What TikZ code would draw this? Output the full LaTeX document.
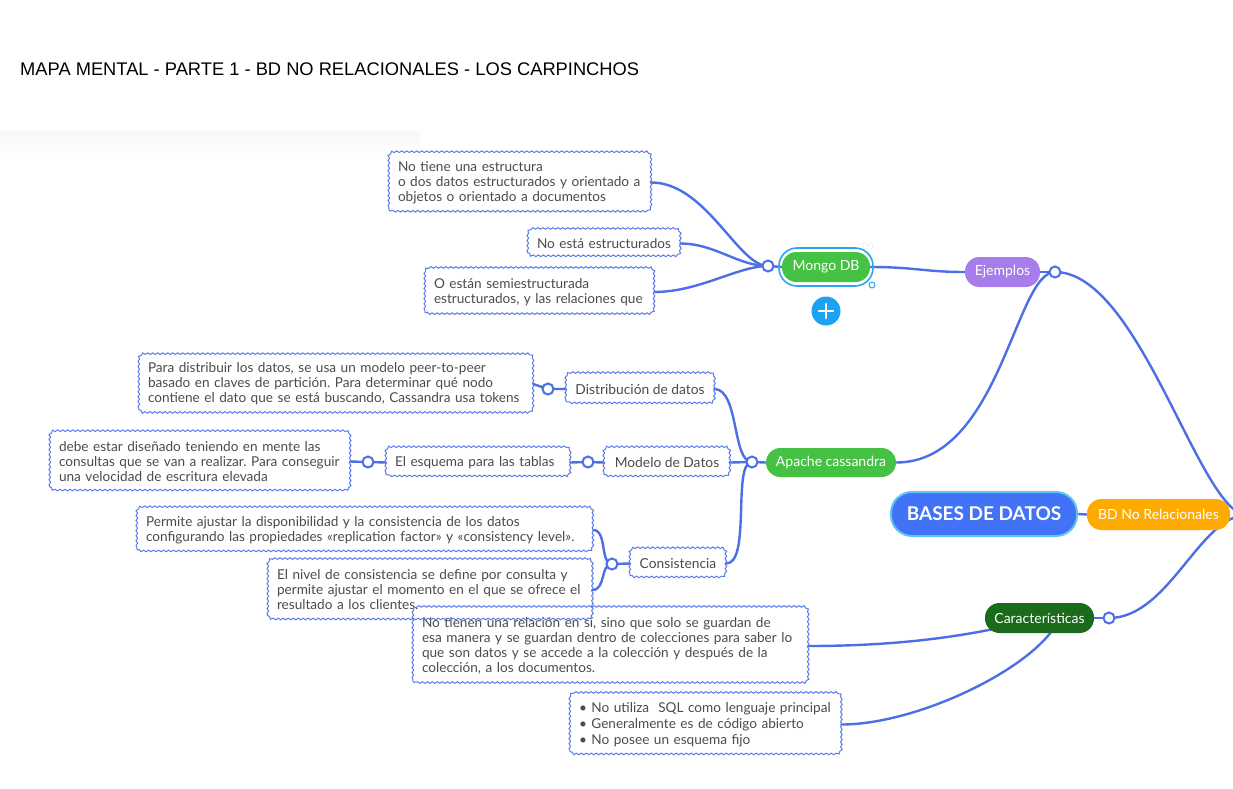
\documentclass[tikz,border=0pt]{standalone}
\usepackage{fontspec}
\setmainfont{Lato}
\newfontfamily\titlefont{Liberation Sans}
\usetikzlibrary{decorations.pathmorphing,backgrounds}
\definecolor{lineblue}{HTML}{4C6FE6}
\definecolor{boxblue}{HTML}{5A7CEB}
\definecolor{textgray}{HTML}{4B4B4B}
\definecolor{mgreen}{HTML}{45C144}
\definecolor{mpurple}{HTML}{A67DEA}
\definecolor{morange}{HTML}{FFAA00}
\definecolor{dgreen}{HTML}{1A6B1C}
\definecolor{bblue}{HTML}{4272F5}
\definecolor{bcyan}{HTML}{5CC6F7}
\definecolor{plusblue}{HTML}{1DA1F2}
\definecolor{selblue}{HTML}{2AA5F0}
\frenchspacing
\tikzset{
  wavy/.style={draw=boxblue, line width=1pt,
    decorate, decoration={snake, segment length=5pt, amplitude=0.8pt}},
  tbox/.style={inner xsep=9pt, inner ysep=3pt, align=left, text=textgray,
    font=\fontsize{13.6}{15}\selectfont},
  cbox/.style={inner sep=0pt, text=textgray, font=\fontsize{13.8}{15}\selectfont},
  pill/.style={rounded corners=14.5pt, minimum height=30pt, inner sep=0pt,
    text=white, font=\fontsize{14}{15}\selectfont},
  knob/.style={circle, draw=lineblue, line width=2pt, fill=white,
    minimum size=11pt, inner sep=0pt},
  conn/.style={draw=lineblue, line width=2.4pt, line cap=round}
}
\begin{document}
\begin{tikzpicture}[x=1pt,y=-1pt]
\useasboundingbox (0,0) rectangle (1233,788);

% title
\node[anchor=west, inner sep=0pt, font=\titlefont\fontsize{18.3}{20}\selectfont] (title) at (20,69) {MAPA MENTAL - PARTE 1 - BD NO RELACIONALES - LOS CARPINCHOS};

% Mongo branch
\node[tbox, text width=244pt, minimum height=59pt] (bA) at (520,182.5)
 {\mbox{No tiene una estructura}\\\mbox{o dos datos estructurados y orientado a}\\\mbox{objetos o orientado a documentos}};
\node[tbox, text width=134pt, minimum height=27pt] (bB) at (604,243.5)
 {\mbox{No está estructurados}};
\node[tbox, text width=211pt, minimum height=46pt] (bC) at (539.5,292)
 {\mbox{O están semiestructurada}\\\mbox{estructurados, y las relaciones que}};
\node[knob] (kM) at (768,266) {};
\draw[selblue, line width=1.6pt, rounded corners=18pt] (779,248) rectangle (873,286);
\node[pill, fill=mgreen, minimum width=88pt] (mongo) at (826,267) {Mongo DB};
\node[circle, draw=selblue, fill=white, line width=1pt, minimum size=6pt, inner sep=0pt] (handle) at (872,285) {};
\node[draw=black!15, fill=white, rounded corners=2pt, minimum width=10pt, minimum height=6pt, inner sep=0pt, font=\fontsize{5}{5}\selectfont, text=black!40] (dots) at (868,246) {...};
\node[circle, fill=plusblue, minimum size=29pt, inner sep=0pt] (plus) at (826,311) {};
\draw[white, line width=2.6pt, line cap=round] ([xshift=-7pt]plus.center) -- ([xshift=7pt]plus.center);
\draw[white, line width=2.6pt, line cap=round] ([yshift=-7pt]plus.center) -- ([yshift=7pt]plus.center);

\node[pill, fill=mpurple, minimum width=75pt] (ejem) at (1002.5,272) {Ejemplos};
\node[knob] (kE) at (1055,272) {};

% Cassandra branch
\node[tbox, text width=376pt, minimum height=58pt] (bD) at (336,384)
 {\mbox{Para distribuir los datos, se usa un modelo peer-to-peer}\\\mbox{basado en claves de partición. Para determinar qué nodo}\\\mbox{contiene el dato que se está buscando, Cassandra usa tokens}};
\node[knob] (kD) at (548,389) {};
\node[cbox, minimum width=148pt, minimum height=30pt] (dist) at (640,389) {Distribución de datos};

\node[tbox, text width=282pt, minimum height=59pt] (bE) at (200,461.5)
 {\mbox{debe estar diseñado teniendo en mente las}\\\mbox{consultas que se van a realizar. Para conseguir}\\\mbox{una velocidad de escritura elevada}};
\node[knob] (kS) at (368,462) {};
\node[tbox, text width=166pt, minimum height=29pt] (esq) at (478,462.5) {\mbox{El esquema para las tablas}};
\node[knob] (kMo) at (588,462) {};
\node[cbox, minimum width=126pt, minimum height=29pt] (modelo) at (667,462.5) {Modelo de Datos};

\node[tbox, text width=438pt, minimum height=44pt] (bF) at (365,530)
 {\mbox{Permite ajustar la disponibilidad y la consistencia de los datos}\\\mbox{configurando las propiedades «replication factor» y «consistency level».}};
\node[tbox, text width=306pt, minimum height=60pt] (bG) at (430,590)
 {\mbox{El nivel de consistencia se define por consulta y}\\\mbox{permite ajustar el momento en el que se ofrece el}\\\mbox{resultado a los clientes.}};
\node[knob] (kC) at (612,564) {};
\node[cbox, minimum width=96pt, minimum height=29pt] (consis) at (678,563.5) {Consistencia};

\node[knob] (kA) at (752,462) {};
\node[pill, fill=mgreen, minimum width=130pt, minimum height=29pt] (apache) at (831,462.5) {Apache cassandra};

% center
\node[pill, fill=bblue, draw=bcyan, line width=2pt, minimum width=186pt, minimum height=44pt, rounded corners=21pt, font=\bfseries\fontsize{19}{20}\selectfont] (bases) at (984,514) {BASES DE DATOS};
\node[pill, fill=morange, minimum width=143pt, minimum height=31pt] (bdnr) at (1158.5,514.5) {BD No Relacionales};
\coordinate (root) at (1247,515);

% Caracteristicas
\node[pill, fill=dgreen, minimum width=109pt] (caract) at (1039.5,618) {Características};
\node[knob] (kK) at (1109,618) {};
\node[tbox, text width=377pt, minimum height=76pt] (bH) at (610.5,646)
 {\mbox{No tienen una relación en sí, sino que solo se guardan de}\\\mbox{esa manera y se guardan dentro de colecciones para saber lo}\\\mbox{que son datos y se accede a la colección y después de la}\\\mbox{colección, a los documentos.}};
\node[tbox, text width=253pt, minimum height=61pt, font=\fontsize{13.6}{16}\selectfont] (bI) at (705.5,724.5)
 {\mbox{• No utiliza\ \ SQL como lenguaje principal}\\\mbox{• Generalmente es de código abierto}\\\mbox{• No posee un esquema fijo}};

% wavy borders of the text boxes
\foreach \n in {bA,bB,bC,bD,dist,bE,esq,modelo,bF,bG,consis,bH,bI}
  \draw[wavy] (\n.south west) [rounded corners=5pt] rectangle (\n.north east) [sharp corners];

% background and connectors
\begin{scope}[on background layer]
\fill[white] (0,0) rectangle (1233,788);
\shade[top color=black!3, bottom color=white] (0,131) rectangle (420,158);
\draw[conn] (kM.center) .. controls +(-30,0) and +(55,0) .. (bA.east);
\draw[conn] (kM.center) .. controls +(-30,0) and +(35,0) .. (bB.east);
\draw[conn] (kM.center) .. controls +(-30,0) and +(45,0) .. (bC.east);
\draw[conn] (kM.center) -- (mongo.west);
\draw[conn] (mongo.east) .. controls +(45,0) and +(-40,0) .. (ejem.west);
\draw[conn] (ejem.east) -- (kE.center);
\draw[conn] (kE.center) .. controls +(-40,0) and +(104,0) .. (apache.east);
\draw[conn] (kE.center) .. controls +(85,0) and +(-47,0) .. (root);

\draw[conn] (kA.center) -- (apache.west);
\draw[conn] (kA.center) .. controls +(-20,0) and +(25,0) .. (dist.east);
\draw[conn] (kA.center) -- (modelo.east);
\draw[conn] (kA.center) .. controls +(-20,0) and +(25,0) .. (consis.east);
\draw[conn] (dist.west) -- (kD.center) -- (bD.east);
\draw[conn] (modelo.west) -- (kMo.center) -- (esq.east);
\draw[conn] (esq.west) -- (kS.center) -- (bE.east);
\draw[conn] (consis.west) -- (kC.center);
\draw[conn] (kC.center) .. controls +(-12,0) and +(14,0) .. (bF.east);
\draw[conn] (kC.center) .. controls +(-12,0) and +(14,0) .. (bG.east);

\draw[conn] (bases.east) -- (bdnr.west);
\draw[conn] (caract.east) -- (kK.center);
\draw[conn] (kK.center) .. controls +(60,0) and +(-47,0) .. (root);
\draw[conn] (caract.center) .. controls (960,640) and (880,646) .. (bH.east);
\draw[conn] ([xshift=20pt]caract.center) .. controls (1040,665) and (920,724.5) .. (bI.east);
\end{scope}
\end{tikzpicture}
\end{document}
